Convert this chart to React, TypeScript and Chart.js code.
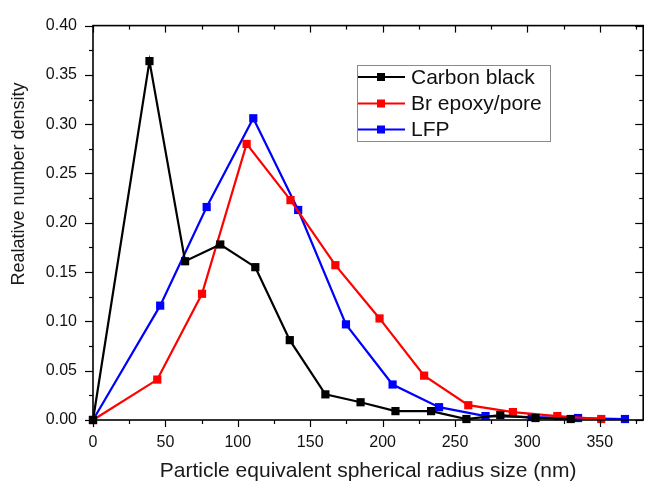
import React, { useEffect, useRef } from 'react';
import { Chart, registerables } from 'chart.js';

Chart.register(...registerables);

const FONT = '"Liberation Sans", Arial, Helvetica, sans-serif';

// Data
const carbonX = [0, 39.0, 63.6, 87.9, 112.1, 135.9, 160.5, 184.8, 208.9, 233.5, 257.9, 281.3, 305.6, 329.9];
const carbonY = [0, 0.364, 0.161, 0.178, 0.155, 0.081, 0.026, 0.018, 0.009, 0.009, 0.001, 0.005, 0.002, 0.001];
const epoxyX = [0, 44.4, 75.3, 106.1, 136.4, 167.4, 197.9, 228.7, 259.2, 290.0, 320.7, 351.0];
const epoxyY = [0, 0.041, 0.128, 0.28, 0.223, 0.157, 0.103, 0.045, 0.015, 0.008, 0.004, 0.001];
const lfpX = [0, 46.4, 78.5, 110.7, 141.7, 174.7, 206.9, 239.0, 271.1, 303.0, 335.0, 367.4];
const lfpY = [0, 0.116, 0.216, 0.306, 0.213, 0.097, 0.036, 0.013, 0.004, 0.003, 0.002, 0.001];

const seriesNames = ['Carbon black', 'Br epoxy/pore', 'LFP'];
const seriesColors = ['#000000', '#ff0000', '#0000ff'];

const xTicks = [0, 50, 100, 150, 200, 250, 300, 350];
const yTicks = [0, 0.05, 0.1, 0.15, 0.2, 0.25, 0.3, 0.35, 0.4];
const xMinorStep = 25;
const yMinorStep = 0.025;
const xMin = 0;
const xMax = 380;
const yMin = 0;
const yMax = 0.4;

const xTitle = 'Particle equivalent spherical radius size (nm)';
const yTitle = 'Realative number density';

const toPoints = (xs: number[], ys: number[]) => xs.map((x, i) => ({ x, y: ys[i] }));

const framePlugin = {
  id: 'frameTicks',
  afterDatasetsDraw(chart: any) {
    const { ctx, chartArea: a, scales } = chart;
    const xs = scales.x;
    const ys = scales.y;
    ctx.save();
    ctx.strokeStyle = '#000';
    ctx.lineWidth = 1.2;
    const seg = (x1: number, y1: number, x2: number, y2: number) => {
      ctx.beginPath();
      ctx.moveTo(x1, y1);
      ctx.lineTo(x2, y2);
      ctx.stroke();
    };
    for (let v = xMin; v <= xMax + 1e-9; v += xMinorStep) {
      const px = Math.round(xs.getPixelForValue(v)) + 0.5;
      const major = xTicks.some((t) => Math.abs(t - v) < 1e-6);
      const len = major ? 7 : 4;
      seg(px, a.bottom, px, a.bottom + len);
      seg(px, a.top, px, a.top + len);
    }
    for (let i = 0; i * yMinorStep <= yMax + 1e-9; i++) {
      const v = i * yMinorStep;
      const py = Math.round(ys.getPixelForValue(v)) + 0.5;
      const major = yTicks.some((t) => Math.abs(t - v) < 1e-6);
      const len = major ? 8 : 4;
      seg(a.left - len, py, a.left, py);
      seg(a.right - len, py, a.right, py);
    }
    ctx.lineWidth = 1.6;
    ctx.strokeRect(a.left, a.top, a.right - a.left, a.bottom - a.top);
    ctx.restore();
  },
  afterDraw(chart: any) {
    const { ctx, chartArea: a } = chart;
    ctx.save();
    // axis titles
    ctx.fillStyle = '#1a1a1a';
    ctx.textAlign = 'center';
    ctx.textBaseline = 'middle';
    ctx.font = `21px ${FONT}`;
    ctx.fillText(xTitle, (a.left + a.right) / 2, 471);
    ctx.save();
    ctx.translate(19, 184);
    ctx.rotate(-Math.PI / 2);
    ctx.font = `18px ${FONT}`;
    ctx.fillText(yTitle, 0, 0);
    ctx.restore();

    // legend
    const bx = 357, by = 65, bw = 193, bh = 76;
    ctx.strokeStyle = '#8a8a8a';
    ctx.lineWidth = 1;
    ctx.strokeRect(bx + 0.5, by + 0.5, bw, bh);
    const rows = [77, 103.5, 129.5];
    chart.data.datasets.forEach((ds: any, i: number) => {
      const ry = rows[i];
      ctx.strokeStyle = ds.borderColor;
      ctx.lineWidth = 2;
      ctx.beginPath();
      ctx.moveTo(bx + 1, ry);
      ctx.lineTo(bx + 48, ry);
      ctx.stroke();
      ctx.fillStyle = ds.backgroundColor;
      ctx.fillRect(bx + 24 - 4, ry - 4, 8, 8);
      ctx.fillStyle = '#111';
      ctx.textAlign = 'left';
      ctx.textBaseline = 'middle';
      ctx.font = `21px ${FONT}`;
      ctx.fillText(ds.label, bx + 54, ry + 1);
    });
    ctx.restore();
  },
};

export default function App() {
  const ref = useRef<HTMLCanvasElement | null>(null);

  useEffect(() => {
    if (!ref.current) return;
    const xsArr = [carbonX, epoxyX, lfpX];
    const ysArr = [carbonY, epoxyY, lfpY];
    const chart = new Chart(ref.current, {
      type: 'line',
      data: {
        datasets: seriesNames.map((name, i) => ({
          label: name,
          data: toPoints(xsArr[i], ysArr[i]),
          borderColor: seriesColors[i],
          backgroundColor: seriesColors[i],
          borderWidth: 2.2,
          pointStyle: 'rect',
          pointRadius: 5.8,
          pointBorderWidth: 0,
          pointBackgroundColor: seriesColors[i],
          tension: 0,
          clip: false as any,
        })),
      },
      options: {
        animation: false,
        responsive: false,
        maintainAspectRatio: false,
        layout: { padding: { top: 18, right: 5, left: 0, bottom: 0 } },
        plugins: {
          legend: { display: false },
          tooltip: { enabled: false },
          title: { display: false },
        },
        scales: {
          x: {
            type: 'linear',
            min: xMin,
            max: xMax,
            afterFit: (s: any) => {
              s.height = 63;
            },
            afterBuildTicks: (s: any) => {
              s.ticks = xTicks.map((v) => ({ value: v }));
            },
            ticks: {
              padding: 13,
              color: '#111',
              font: { family: FONT, size: 16 },
              maxRotation: 0,
              autoSkip: false,
              callback: (v: any) => String(v),
            },
            grid: { display: false, drawTicks: false },
            border: { display: false },
          },
          y: {
            type: 'linear',
            min: yMin,
            max: yMax,
            afterFit: (s: any) => {
              s.width = 93;
            },
            afterBuildTicks: (s: any) => {
              s.ticks = yTicks.map((v) => ({ value: v }));
            },
            ticks: {
              padding: 16,
              color: '#111',
              font: { family: FONT, size: 16 },
              autoSkip: false,
              callback: (v: any) => Number(v).toFixed(2),
            },
            grid: { display: false, drawTicks: false },
            border: { display: false },
          },
        },
      },
      plugins: [framePlugin],
    });
    return () => chart.destroy();
  }, []);

  return (
    <div style={{ position: 'absolute', left: 0, top: 0, width: 649, height: 483, background: '#fff' }}>
      <canvas ref={ref} width={649} height={483} style={{ display: 'block', width: 649, height: 483 }} />
    </div>
  );
}
